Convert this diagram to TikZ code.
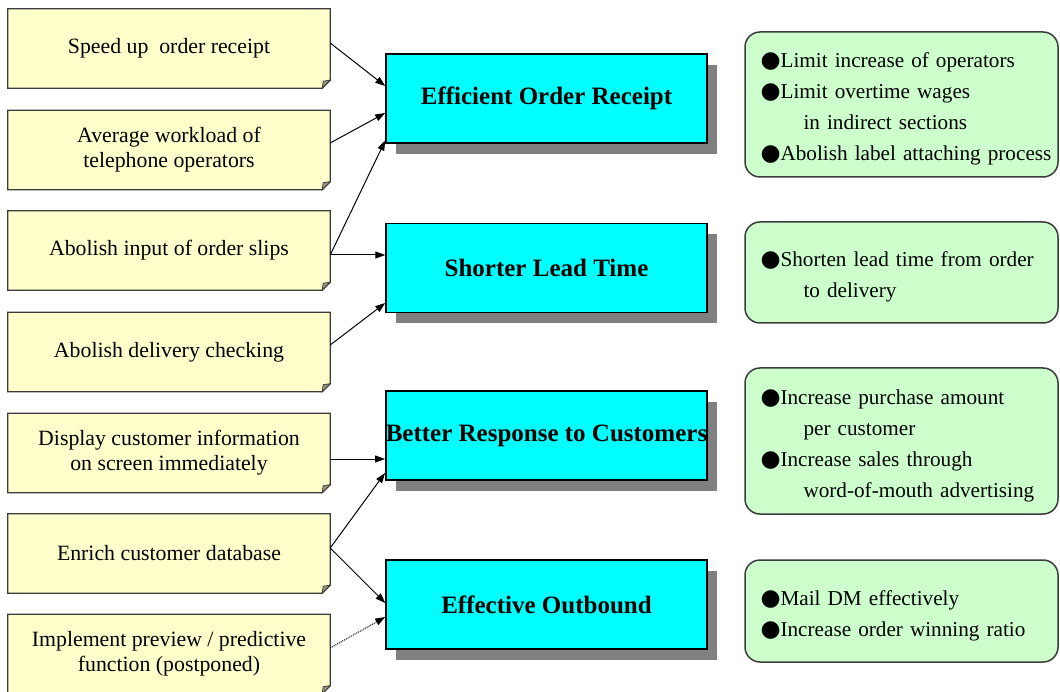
\documentclass[tikz,border=0pt]{standalone}
\usepackage{fontspec}
\setmainfont{Liberation Serif}
\newfontfamily\symfont{DejaVu Sans}
\usetikzlibrary{shadows,arrows.meta,backgrounds}

\definecolor{noteyellow}{RGB}{255,255,204}
\definecolor{foldgray}{RGB}{150,150,120}
\definecolor{goalcyan}{RGB}{0,255,255}
\definecolor{effectgreen}{RGB}{204,255,204}
\definecolor{shadowgray}{RGB}{128,128,128}
\definecolor{framegray}{RGB}{60,60,60}

% bullet item and continuation line for the effect lists
\newcommand{\bul}[1]{{\symfont\fontsize{23}{23}\selectfont ●}\mbox{#1}}
\newcommand{\cont}[1]{\hspace*{43pt}\mbox{#1}}

\tikzset{
  measure/.style={rectangle, minimum width=322pt, minimum height=79pt,
    inner sep=0pt, align=center, font=\fontsize{21.8}{25}\selectfont},
  memoframe/.style={fill=noteyellow, draw=framegray, line width=1.3pt},
  memofold/.style={fill=foldgray, draw=framegray, line width=0.8pt},
  goal/.style={rectangle, draw=black, line width=1.5pt, fill=goalcyan,
    minimum width=321pt, minimum height=89pt, inner sep=0pt,
    font=\fontsize{25}{29}\selectfont\bfseries,
    drop shadow={shadow xshift=10pt, shadow yshift=-11pt,
      fill=shadowgray, opacity=1}},
  effect/.style={rectangle, rounded corners=15pt, draw=framegray,
    line width=1.5pt, fill=effectgreen, text width=282pt,
    inner xsep=15.5pt, inner ysep=0pt, align=left,
    font=\fontsize{21.2}{31}\selectfont,
    execute at begin node={\rule{0pt}{24pt}}},
  link/.style={-{Triangle[length=10pt,width=7pt]}, line width=1pt, black},
  weaklink/.style={link, densely dotted}
}

\begin{document}
\begin{tikzpicture}[x=1pt, y=-1pt]
\clip (0,0) rectangle (1060,692);
\begin{scope}[on background layer]
  \fill[white] (0,0) rectangle (1060,692);
\end{scope}

% measures (left column)
\node[measure] (m1) at (169,48.5)  {Speed up\ \ order receipt};
\node[measure] (m2) at (169,150)   {Average workload of\\telephone operators};
\node[measure] (m3) at (169,250.5) {Abolish input of order slips};
\node[measure] (m4) at (169,352)   {Abolish delivery checking};
\node[measure] (m5) at (169,453)   {Display customer information\\on screen immediately};
\node[measure] (m6) at (169,553.5) {Enrich customer database};
\node[measure] (m7) at (169,654)   {Implement preview / predictive\\function (postponed)};

% memo sheets with folded corner behind the measure texts
\begin{scope}[on background layer]
  \foreach \n in {m1,m2,m3,m4,m5,m6,m7} {
    \filldraw[memoframe] (\n.north west) -- (\n.north east)
      -- ([yshift=8pt]\n.south east) -- ([xshift=-8pt]\n.south east)
      -- (\n.south west) -- cycle;
    \filldraw[memofold] ([yshift=8pt]\n.south east)
      -- ([xshift=-8pt]\n.south east) -- ([xshift=-7pt,yshift=7pt]\n.south east) -- cycle;
  }
\end{scope}

% goals (middle column)
\node[goal] (g1) at (546.5,98.5)  {Efficient Order Receipt};
\node[goal] (g2) at (546.5,268)   {Shorter Lead Time};
\node[goal] (g3) at (546.5,435.5) {Better Response to Customers};
\node[goal] (g4) at (546.5,604.5) {Effective Outbound};

% effects (right column)
\node[effect, minimum height=145pt] (e1) at (901.5,104.5)
  {\bul{Limit increase of operators}\\
   \bul{Limit overtime wages}\\
   \cont{in indirect sections}\\
   \bul{Abolish label attaching process}};
\node[effect, minimum height=101pt] (e2) at (901.5,272.5)
  {\bul{Shorten lead time from order}\\
   \cont{to delivery}};
\node[effect, minimum height=146pt] (e3) at (901.5,441)
  {\bul{Increase purchase amount}\\
   \cont{per customer}\\
   \bul{Increase sales through}\\
   \cont{word-of-mouth advertising}};
\node[effect, minimum height=102pt] (e4) at (901.5,611)
  {\bul{Mail DM effectively}\\
   \bul{Increase order winning ratio}};

% connectors
\draw[link] ([yshift=5.5pt]m1.east) -- ([yshift=12.5pt]g1.west);
\draw[link] ([yshift=7pt]m2.east)   -- ([yshift=-14.5pt]g1.west);
\draw[link] ([yshift=-4.5pt]m3.east) -- ([yshift=-42pt]g1.west);
\draw[link] ([yshift=-4.5pt]m3.east) -- ([yshift=13pt]g2.west);
\draw[link] ([yshift=7pt]m4.east)   -- ([yshift=-35pt]g2.west);
\draw[link] ([yshift=-6pt]m5.east)  -- ([yshift=-23.5pt]g3.west);
\draw[link] ([yshift=5.5pt]m6.east) -- ([yshift=-37.5pt]g3.west);
\draw[link] ([yshift=5.5pt]m6.east) -- ([yshift=1.5pt]g4.west);
\draw[weaklink] ([yshift=6pt]m7.east) -- ([yshift=-12.5pt]g4.west);
\end{tikzpicture}
\end{document}
